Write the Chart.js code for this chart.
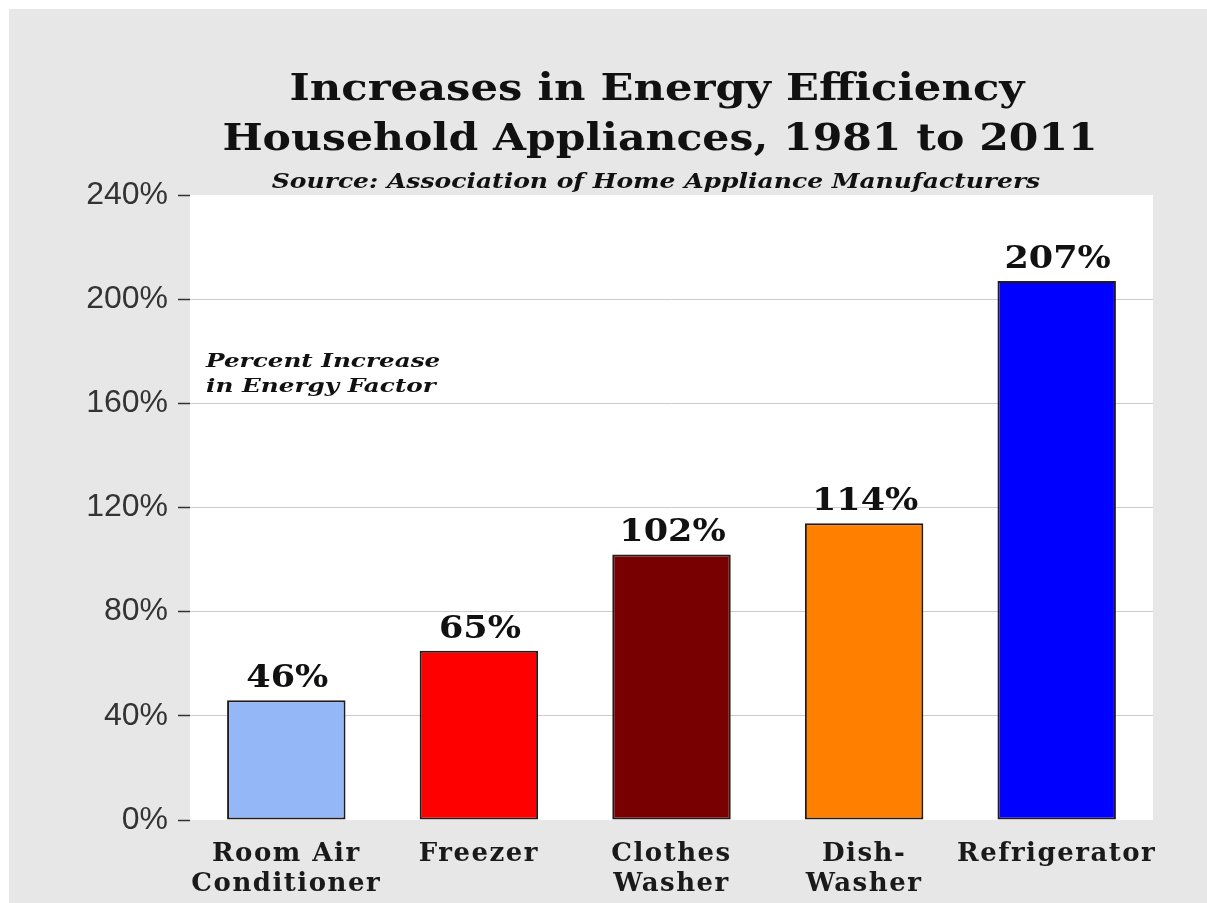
<!DOCTYPE html>
<html>
<head>
<meta charset="utf-8">
<script src="https://cdn.jsdelivr.net/npm/chart.js@4"></script>
<style>
    html, body { margin: 0; padding: 0; background: #ffffff; }
    #wrap { width: 1207px; height: 903px; }
</style>
</head>
<body>
<div id="wrap"><canvas id="chart" width="1207" height="903"></canvas></div>
<script>
// data
let categories = [['Room Air', 'Conditioner'], 'Freezer', ['Clothes', 'Washer'], ['Dish-', 'Washer'], 'Refrigerator'];
let increases = [46, 65, 102, 114, 207];
let barColors = ['#94b8f7', '#ff0000', '#780000', '#ff8000', '#0000ff'];
let yTicks = [0, 40, 80, 120, 160, 200, 240];

let titleLines = ['Increases in Energy Efficiency', 'Household Appliances, 1981 to 2011'];
let sourceText = 'Source: Association of Home Appliance Manufacturers';
let noteLines = ['Percent Increase', 'in Energy Factor'];

const serif = '"DejaVu Serif", Georgia, serif';

// text drawn a little wider, like the wide serif of the original
function wideText(ctx, text, x, y, sx) {
    ctx.save();
    ctx.translate(x, y);
    ctx.scale(sx, 1);
    ctx.fillText(text, 0, 0);
    ctx.restore();
}

// gray panel + white plot area; letter spacing for the category labels
let backdrop = {
    id: 'backdrop',
    beforeDraw: function (chart) {
        let ctx = chart.ctx, a = chart.chartArea;
        ctx.save();
        ctx.fillStyle = '#ffffff';
        ctx.fillRect(0, 0, chart.width, chart.height);
        ctx.fillStyle = '#e7e7e7';
        ctx.fillRect(9, 9, chart.width - 9, chart.height - 9);
        ctx.fillStyle = '#ffffff';
        ctx.fillRect(a.left, a.top, a.right - a.left, a.bottom - a.top);
        ctx.restore();
        ctx.letterSpacing = '1.5px';
    }
};

// titles, note and value labels
let texts = {
    id: 'texts',
    afterDatasetsDraw: function (chart) {
        let ctx = chart.ctx;
        ctx.letterSpacing = '0px';
        ctx.save();
        ctx.fillStyle = '#111111';
        ctx.textAlign = 'center';
        ctx.textBaseline = 'alphabetic';
        ctx.font = 'bold 38px ' + serif;
        wideText(ctx, titleLines[0], 657, 100, 1.14);
        wideText(ctx, titleLines[1], 660, 150, 1.12);
        ctx.font = 'italic bold 20px ' + serif;
        wideText(ctx, sourceText, 656, 188, 1.25);

        ctx.textAlign = 'left';
        ctx.font = 'italic bold 19px ' + serif;
        wideText(ctx, noteLines[0], 206, 367, 1.3);
        wideText(ctx, noteLines[1], 206, 392, 1.3);

        ctx.textAlign = 'center';
        ctx.font = 'bold 31px ' + serif;
        let meta = chart.getDatasetMeta(0);
        meta.data.forEach(function (bar, i) {
            wideText(ctx, increases[i] + '%', bar.x + 1, bar.y - 13, 1.13);
        });
        ctx.restore();
    }
};

new Chart(document.getElementById('chart').getContext('2d'), {
    type: 'bar',
    data: {
        labels: categories,
        datasets: [{
            data: increases,
            backgroundColor: barColors,
            borderColor: '#241a1a',
            borderWidth: 2,
            borderSkipped: false,
            categoryPercentage: 1,
            barPercentage: 0.615
        }]
    },
    options: {
        responsive: false,
        animation: false,
        events: [],
        layout: { padding: { left: 0, right: 54, top: 195, bottom: 0 } },
        plugins: {
            legend: { display: false },
            tooltip: { enabled: false }
        },
        scales: {
            x: {
                grid: { display: false },
                border: { display: false },
                ticks: {
                    color: '#1a1a1a',
                    font: { family: serif, weight: 'bold', size: 26, lineHeight: 1.15 },
                    padding: 11,
                    maxRotation: 0,
                    autoSkip: false
                },
                afterFit: function (scale) { scale.height = 83; }
            },
            y: {
                min: 0,
                max: 240,
                afterBuildTicks: function (scale) {
                    scale.ticks = yTicks.map(function (v) { return { value: v }; });
                },
                border: { display: false },
                grid: {
                    color: function (c) {
                        return (c.tick && (c.tick.value === 0 || c.tick.value === 240)) ? 'rgba(0,0,0,0)' : '#cccccc';
                    },
                    lineWidth: 1,
                    tickColor: '#333333',
                    tickLength: 12,
                    tickWidth: 1.5
                },
                ticks: {
                    z: 1,
                    color: '#333333',
                    font: { family: '"Liberation Sans", Arial, sans-serif', size: 32 },
                    padding: 10,
                    callback: function (v) { return v + '%'; }
                },
                afterFit: function (scale) { scale.width = 190; }
            }
        }
    },
    plugins: [backdrop, texts]
});
</script>
</body>
</html>
